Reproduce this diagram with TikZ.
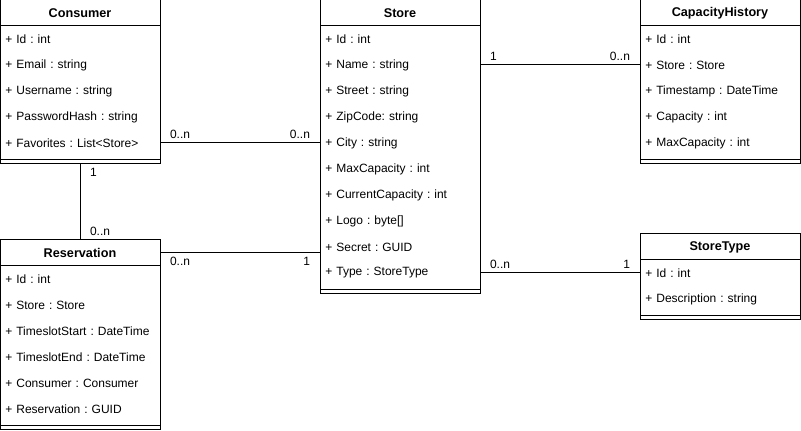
\documentclass[tikz,border=0pt]{standalone}
\usepackage{fontspec}
\setmainfont{Liberation Sans}
\usepackage{tikz}
\usetikzlibrary{positioning}
\frenchspacing
\tikzset{every node/.style={font=\fontsize{9}{11}\selectfont, outer sep=0pt}}

\begin{document}
\begin{tikzpicture}[
  x=0.75pt, y=-0.75pt,
  line width=0.75pt,
  classhead/.style={
    draw,
    minimum width=120pt,
    minimum height=19.5pt,
    inner sep=0pt,
    font=\fontsize{9.5}{11}\selectfont\bfseries
  },
  attr/.style={
    text width=112pt,
    inner xsep=4pt,
    inner ysep=0pt,
    minimum height=19.5pt,
    align=left
  },
  sepbar/.style={minimum width=120pt, minimum height=6pt, inner sep=0pt},
  lbl/.style={inner xsep=7.5pt, inner ysep=3pt}
]
\useasboundingbox (0,0) rectangle (801,431);

% Consumer
\node[classhead, anchor=north west] (con) at (0,0) {Consumer};
\node[attr, below=0pt of con] (con-id) {+ Id : int};
\node[attr, below=0pt of con-id] (con-mail) {+ Email : string};
\node[attr, below=0pt of con-mail] (con-user) {+ Username : string};
\node[attr, below=0pt of con-user] (con-hash) {+ PasswordHash : string};
\node[attr, below=0pt of con-hash] (con-fav) {+ Favorites : List<Store>};
\node[sepbar, below=0pt of con-fav] (con-sep) {};
\draw (con-sep.west) -- (con-sep.east);
\draw (con.north west) rectangle (con-sep.south east);

% Store
\node[classhead, anchor=north west] (sto) at (320,0) {Store};
\node[attr, below=0pt of sto] (sto-id) {+ Id : int};
\node[attr, below=0pt of sto-id] (sto-name) {+ Name : string};
\node[attr, below=0pt of sto-name] (sto-street) {+ Street : string};
\node[attr, below=0pt of sto-street] (sto-zip) {+ ZipCode: string};
\node[attr, below=0pt of sto-zip] (sto-city) {+ City : string};
\node[attr, below=0pt of sto-city] (sto-max) {+ MaxCapacity : int};
\node[attr, below=0pt of sto-max] (sto-cur) {+ CurrentCapacity : int};
\node[attr, below=0pt of sto-cur] (sto-logo) {+ Logo : byte[]};
\node[attr, below=0pt of sto-logo] (sto-secret) {+ Secret : GUID};
\node[attr, below=0pt of sto-secret] (sto-type) {+ Type : StoreType};
\node[sepbar, below=0pt of sto-type] (sto-sep) {};
\draw (sto-sep.west) -- (sto-sep.east);
\draw (sto.north west) rectangle (sto-sep.south east);

% CapacityHistory
\node[classhead, anchor=north west] (cap) at (640,0) {CapacityHistory};
\node[attr, below=0pt of cap] (cap-id) {+ Id : int};
\node[attr, below=0pt of cap-id] (cap-store) {+ Store : Store};
\node[attr, below=0pt of cap-store] (cap-time) {+ Timestamp : DateTime};
\node[attr, below=0pt of cap-time] (cap-cap) {+ Capacity : int};
\node[attr, below=0pt of cap-cap] (cap-max) {+ MaxCapacity : int};
\node[sepbar, below=0pt of cap-max] (cap-sep) {};
\draw (cap-sep.west) -- (cap-sep.east);
\draw (cap.north west) rectangle (cap-sep.south east);

% Reservation
\node[classhead, anchor=north west] (res) at (0,240) {Reservation};
\node[attr, below=0pt of res] (res-id) {+ Id : int};
\node[attr, below=0pt of res-id] (res-store) {+ Store : Store};
\node[attr, below=0pt of res-store] (res-start) {+ TimeslotStart : DateTime};
\node[attr, below=0pt of res-start] (res-end) {+ TimeslotEnd : DateTime};
\node[attr, below=0pt of res-end] (res-con) {+ Consumer : Consumer};
\node[attr, below=0pt of res-con] (res-res) {+ Reservation : GUID};
\node[sepbar, below=0pt of res-res] (res-sep) {};
\draw (res-sep.west) -- (res-sep.east);
\draw (res.north west) rectangle (res-sep.south east);

% StoreType
\node[classhead, anchor=north west] (stt) at (640,234) {StoreType};
\node[attr, below=0pt of stt] (stt-id) {+ Id : int};
\node[attr, below=0pt of stt-id] (stt-desc) {+ Description : string};
\node[sepbar, below=0pt of stt-desc] (stt-sep) {};
\draw (stt-sep.west) -- (stt-sep.east);
\draw (stt.north west) rectangle (stt-sep.south east);

% associations
\draw (con-fav.east) -- node[lbl, at start, anchor=south west] {0..n}
  node[lbl, at end, anchor=south east] {0..n} (sto-city.west);
\draw (con-sep.south) -- node[lbl, at start, anchor=north west] {1}
  node[lbl, at end, anchor=south west] {0..n} (res.north);
\draw (res.east) -- node[lbl, at start, anchor=north west] {0..n}
  node[lbl, at end, anchor=north east] {1} (res.east -| sto-secret.west);
\draw (sto-name.east) -- node[lbl, at start, anchor=south west] {1}
  node[lbl, at end, anchor=south east] {0..n} (cap-store.west);
\draw (sto-type.east) -- node[lbl, at start, anchor=south west] {0..n}
  node[lbl, at end, anchor=south east] {1} (stt-id.west);

\end{tikzpicture}
\end{document}
